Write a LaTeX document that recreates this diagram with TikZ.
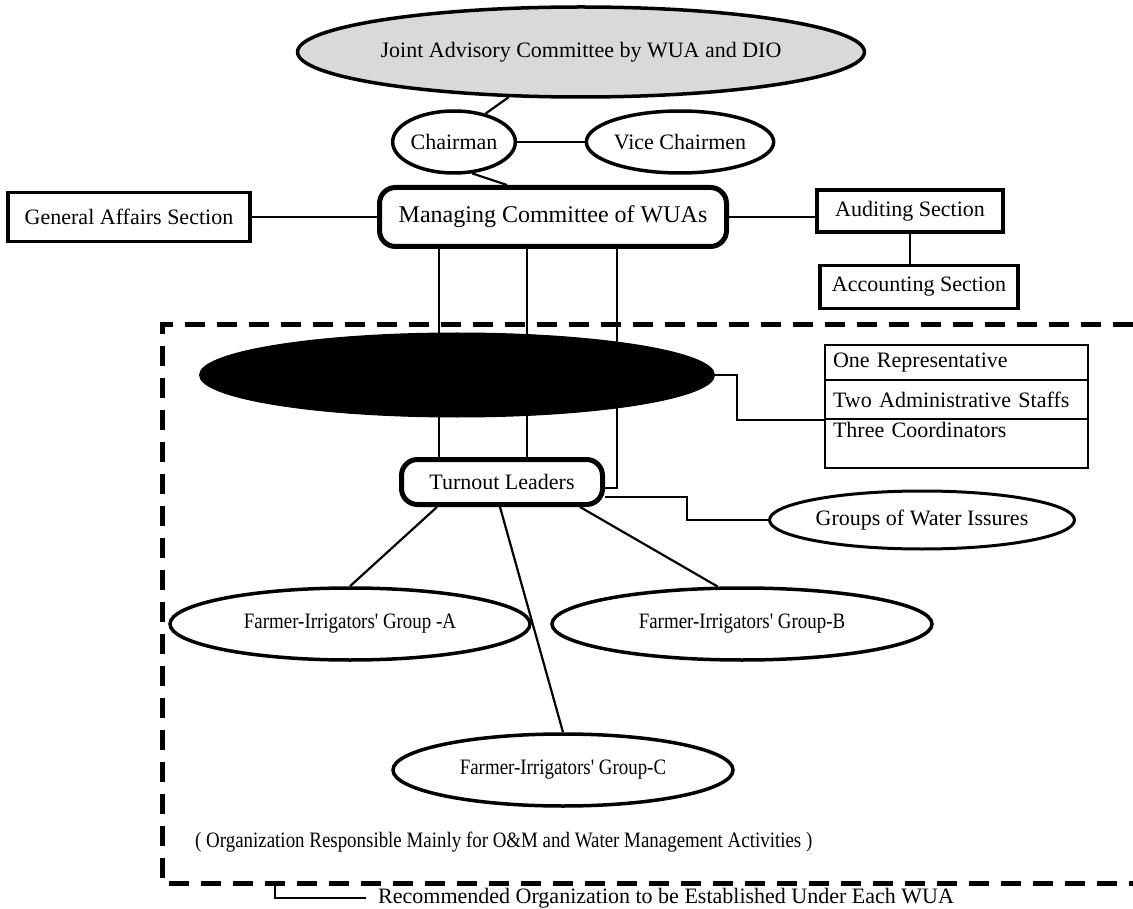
\documentclass[tikz,border=0pt]{standalone}
\usepackage{fontspec}
\setmainfont{Liberation Serif}
\newfontfamily\cond{Liberation Serif}[FakeStretch=0.86]
\usetikzlibrary{shapes.geometric}
\begin{document}
\begin{tikzpicture}[x=1pt,y=-1pt,
  every node/.style={inner sep=0pt, font=\fontsize{22}{26}\selectfont},
  ell/.style={ellipse, draw, line width=3.5pt},
  sbox/.style={rectangle, draw, line width=3.5pt},
  rbox/.style={rectangle, rounded corners=16pt, draw, line width=5pt},
  rowbox/.style={rectangle, draw, line width=2.2pt, minimum width=263pt, text width=255pt, align=left},
  conn/.style={line width=2.2pt},
  frame/.style={line width=5pt, dash pattern=on 20pt off 12pt}]
\useasboundingbox (0,0) rectangle (1133,909);

% top level
\node[ell, fill=gray!30, minimum width=536pt, minimum height=90pt] (joint) at (581,52) {Joint Advisory Committee by WUA and DIO};
\node[ell, minimum width=122pt, minimum height=62pt] (chair) at (454,142) {Chairman};
\node[ell, minimum width=170pt, minimum height=62pt] (vc) at (680,142) {Vice Chairmen};
\node[rbox, minimum width=347pt, minimum height=59pt, font=\fontsize{24}{28}\selectfont] (mng) at (553,217) {Managing Committee of WUAs};
\node[sbox, minimum width=242pt, minimum height=49pt] (ga) at (129,217) {General Affairs Section};
\node[sbox, minimum width=186pt, minimum height=42pt] (aud) at (910,211) {Auditing Section};
\node[sbox, minimum width=198pt, minimum height=43pt] (acc) at (919,287) {Accounting Section};

\draw[conn] (joint.212) -- (chair.42);
\draw[conn] (chair.east) -- (vc.west);
\draw[conn] (chair.-60) -- ([xshift=130pt]mng.north west);
\draw[conn] (ga.east) -- (mng.west);
\draw[conn] (mng.east) -- (mng.east -| aud.west);
\draw[conn] (aud.south) -- (aud.south |- acc.north);

% dashed frame
\draw[frame] (1133,325) -- (162,325) -- (162,883) -- (1133,883);
\coordinate (brk) at (275,883);

% middle level
\node[ellipse, fill=black, draw, line width=1pt, minimum width=515pt, minimum height=84pt] (blk) at (457,375) {};
\node[rowbox, minimum height=35pt] (r1) at (956.5,362.5) {\hspace*{4pt}One Representative};
\node[rowbox, minimum height=39pt] (r2) at (956.5,399.5) {\hspace*{4pt}Two Administrative Staffs};
\node[rowbox, minimum height=49pt, text depth=28pt] (r3) at (956.5,443.5) {\hspace*{4pt}Three Coordinators};
\node[rbox, minimum width=201pt, minimum height=45pt] (tl) at (502,482) {Turnout Leaders};
\node[ell, line width=3pt, minimum width=305pt, minimum height=58pt] (gw) at (922,520) {Groups of Water Issures};

\draw[conn] ([xshift=62pt]mng.south west) -- ([xshift=40pt]tl.north west);
\draw[conn] ([xshift=150pt]mng.south west) -- ([xshift=128pt]tl.north west);
\draw[conn] ([xshift=240pt]mng.south west) |- ([yshift=-6pt]tl.east);
\draw[conn] (blk.east) -- ++(22,0) |- (r2.south west);
\draw[conn] ([yshift=-15pt]tl.east) -- ++(82,0) |- (gw.west);

% groups
\node[ell, minimum width=360pt, minimum height=72pt] (gA) at (350,624) {\cond Farmer-Irrigators' Group -A};
\node[ell, minimum width=380pt, minimum height=72pt] (gB) at (742,624) {\cond Farmer-Irrigators' Group-B};
\node[ell, minimum width=340pt, minimum height=72pt] (gC) at (563,770) {\cond Farmer-Irrigators' Group-C};

\draw[conn] ([xshift=38pt]tl.south west) -- (gA.north);
\draw[conn] ([xshift=101pt]tl.south west) -- (gC.north);
\draw[conn] ([xshift=181pt]tl.south west) -- (gB.123);

% labels
\node[anchor=west] (org) at (195,842) {\cond ( Organization Responsible Mainly for O\&M and Water Management Activities )};
\node[anchor=west] (rec) at (378,898) {Recommended Organization to be Established Under Each WUA};
\draw[conn] (brk) |- ([xshift=-12pt]rec.west);
\end{tikzpicture}
\end{document}
